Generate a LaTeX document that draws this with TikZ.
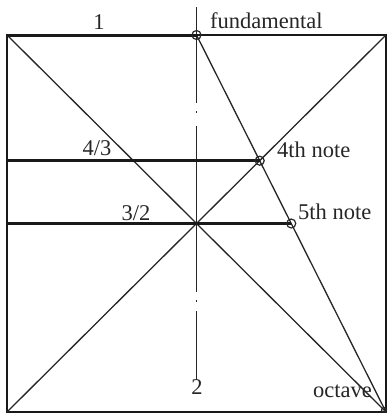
\documentclass[tikz,border=0pt]{standalone}
\usepackage{fontspec}
\setmainfont{Liberation Serif}
\usetikzlibrary{calc}
\begin{document}
\begin{tikzpicture}[x=1pt,y=-1pt,
  thinline/.style={line width=1.3pt, draw=black!85},
  frameline/.style={line width=2pt, draw=black!90},
  ratioline/.style={line width=3pt, draw=black!90},
  ring/.style={line width=1.2pt, draw=black!85},
  lab/.style={font=\fontsize{22.5}{27}\selectfont, text=black!85, inner sep=0pt}]
\useasboundingbox (0,0) rectangle (388,413);
% corners and key points
\coordinate (TL) at (7,35);
\coordinate (TR) at (386,35);
\coordinate (BL) at (7,412);
\coordinate (BR) at (386,412);
\coordinate (F) at (196.5,35);
\coordinate (C) at (intersection of TL--BR and TR--BL);
\coordinate (Q) at (intersection of F--BR and TR--BL);
\coordinate (P) at ($(F)!0.5!(BR)$);
\coordinate (Vtop) at (196.5,7);
\coordinate (Vbot) at (196.5,380);
% frame and diagonals
\draw[frameline] (TL) rectangle (BR);
\draw[thinline] (TL) -- (BR);
\draw[thinline] (TR) -- (BL);
\draw[thinline] (F) -- (BR);
% axis
\draw[thinline, line width=1.1pt, dash pattern=on 96pt off 8pt on 1.5pt off 13.5pt on 166pt off 8pt on 1.5pt off 9.5pt on 200pt] (Vtop) -- (Vbot);
% ratio lines
\draw[ratioline] (TL) -- (F);
\draw[ratioline] (TL|-Q) -- (Q);
\draw[ratioline] (TL|-P) -- (P);
% rings
\draw[ring] (F) circle (4.5);
\draw[ring] (Q) circle (4.5);
\draw[ring] (P) circle (4.5);
\draw[ring] ($(BR)+(-2,-2)$) circle (2.5);
% labels
\node[lab, anchor=base] (l1) at (99,29) {1};
\node[lab, anchor=base west] (lfund) at (210,28) {fundamental};
\node[lab, anchor=base] (l43) at (97,155) {4/3};
\node[lab, anchor=base west] (l4th) at (277,157) {4th note};
\node[lab, anchor=base] (l32) at (136,220) {3/2};
\node[lab, anchor=base west] (l5th) at (298,219) {5th note};
\node[lab, anchor=base] (l2) at (197,394) {2};
\node[lab, anchor=base east] (loct) at (372,397) {octave};
\end{tikzpicture}
\end{document}
